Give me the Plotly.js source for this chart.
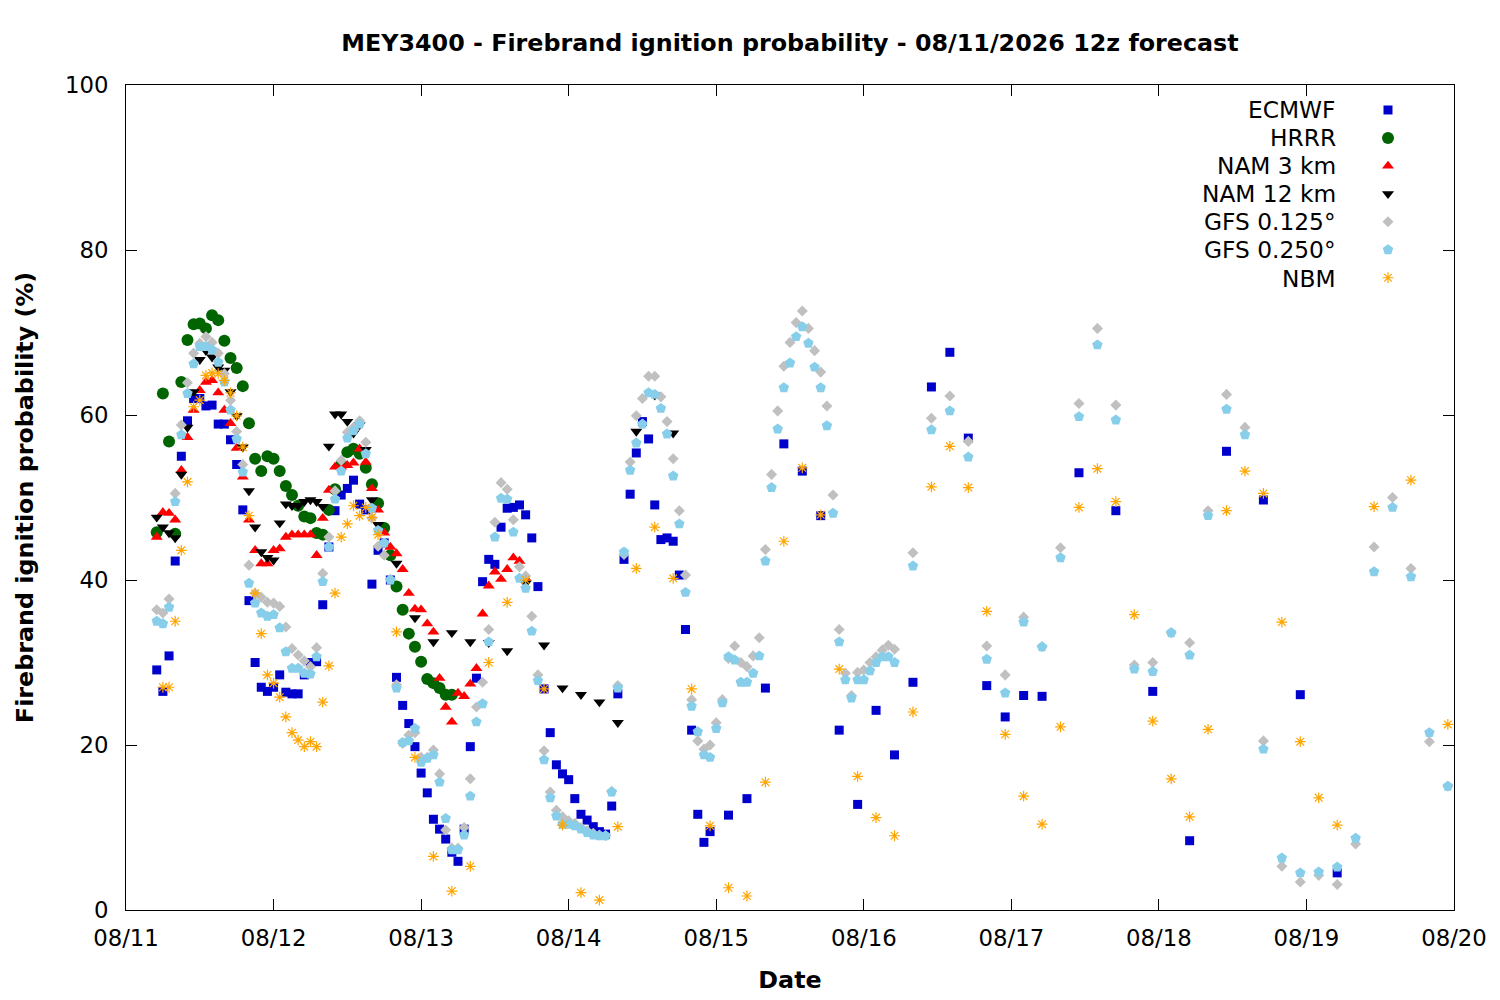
<!DOCTYPE html>
<html>
<head>
<meta charset="utf-8">
<script src="https://cdn.plot.ly/plotly-3.0.1.min.js"></script>
<style>
  html, body { margin: 0; padding: 0; background: #fff; }
  #chart { width: 1500px; height: 1000px; }
</style>
</head>
<body>
<div id="chart"></div>
<script>
// hours counted from 08/11 00:00, one entry per model output time
function span(a, b, step)
{
    var out = [];
    for (var h = a; h <= b; h += step) out.push(h);
    return out;
}

var names = ['ECMWF', 'HRRR', 'NAM 3 km', 'NAM 12 km', 'GFS 0.125\u00b0', 'GFS 0.250\u00b0', 'NBM'];

var ecmwf_h = span(5, 95, 1).concat(span(98, 149, 3), span(155, 197, 6));
var ecmwf_v =
[
    29.1, 26.5, 30.8, 42.3, 55, 59.3, 62, 62, 61.1, 61.2,
    58.9, 58.9, 57, 54, 48.5, 37.5, 30, 27, 26.5, 27,
    28.5, 26.4, 26.2, 26.2, 28.5, 30, 30.1, 37, 44, 48.4,
    50.3, 51.1, 52.1, 49.2, 48.5, 39.5, 43.6, 44.5, 40, 28.2,
    24.8, 22.6, 19.8, 16.6, 14.2, 11, 9.8, 8.6, 7, 5.9,
    9.8, 19.8, 28.1, 39.8, 42.5, 41.9, 46.4, 48.7, 48.8, 49.1,
    47.9, 45.1, 39.2, 26.8, 21.5, 17.6, 16.5, 15.8, 13.5, 11.6,
    10.9, 10.1, 9.5, 9.2, 12.6, 26.2, 42.5, 50.4, 55.4, 59.2,
    57.1, 49.1, 44.9, 45.1, 44.7, 40.6, 34, 21.8, 11.6, 8.2, 9.5,
    11.5, 13.5, 26.9, 56.5, 53.2, 47.8, 21.8, 12.8, 24.2, 18.8,
    27.6, 63.4, 67.6, 57.2, 27.2, 23.4, 26, 25.9,
    53, 48.4, 26.5, 8.4, 55.6, 49.7, 26.1, 4.5
];

var hrrr_h = span(5, 53, 1);
var hrrr_v =
[
    45.8, 62.6, 56.8, 45.6, 64, 69.1, 71, 71.1, 70.5, 72.1,
    71.5, 69, 66.9, 65.7, 63.5, 59, 54.7, 53.2, 55, 54.7,
    53.2, 51.4, 50.3, 49, 47.7, 47.5, 45.7, 45.5, 48.5, 51,
    54, 55.5, 55.9, 55.3, 53.6, 51.6, 49.3, 46.3, 43, 39.2,
    36.4, 33.5, 31.9, 30.1, 28, 27.5, 26.9, 26.1, 26.1
];

var nam3_h = span(5, 65, 1);
var nam3_v =
[
    45.2, 48.2, 48.1, 47.3, 53.3, 57.3, 60.6, 63, 64, 64.2,
    62.7, 60.6, 59, 56, 52.5, 47.3, 43.6, 42, 42, 43.6,
    43.8, 45.2, 45.5, 45.5, 45.5, 45.5, 43, 47.5, 50.9, 53.7,
    53.7, 53.9, 54.2, 55.9, 54.3, 51.1, 48.5, 45.7, 44, 43.2,
    41.3, 38.4, 36.5, 36.4, 34.7, 33.7, 28.1, 24.6, 22.8, 26.3,
    25.9, 27.4, 29.3, 35.9, 39.3, 41, 40.1, 41.3, 42.7, 42.3, 40.2
];

var nam12_h = span(5, 41, 1).concat(span(44, 89, 3));
var nam12_v =
[
    47.6, 46.4, 45.7, 45.1, 52.8, 58.5, 62.8, 66.7, 67.8, 67,
    65.8, 65.4, 62.8, 59.9, 56.1, 50.8, 46.4, 43.4, 42.7, 42.4,
    46.9, 49.2, 49, 49, 49.5, 49.7, 49.5, 48.9, 56.2, 60.1,
    60.1, 59.2, 57.8, 58.8, 55.8, 49.7, 46.7,
    42, 35.4, 32.5, 33.6, 32.5, 32.4, 31.4, 39.6, 32.1, 26.9,
    26.1, 25.2, 22.7, 58, 62.4, 57.8
];

var gfs_h = span(5, 125, 1).concat(span(128, 215, 3));
var gfs125_v =
[
    36.4, 36, 37.7, 50.5, 58.8, 63.9, 67.5, 68.7, 69.5, 68.8,
    67.5, 65, 61.8, 58, 54, 41.8, 38.4, 37.9, 37.3, 37.2,
    36.8, 34.3, 31.7, 30.9, 30.2, 29.5, 31.8, 40.8, 45.2, 50.8,
    54.5, 57.9, 58.5, 59.3, 56.7, 47.5, 44.1, 43, 40.1, 27.3,
    20.2, 21.2, 21.5, 18.5, 18.5, 19.4, 16.5, 9.7, 7.5, 7.5,
    10, 15.9, 24.6, 27.6, 34, 47, 51.8, 51, 47.3, 41.6,
    40.5, 35.6, 28.5, 19.3, 14.3, 12.1, 11.3, 10.8, 10.5, 10,
    9.6, 9.3, 9.1, 9, 14.4, 27.2, 43.1, 54.3, 59.9, 62,
    64.7, 64.7, 62.2, 59.2, 54.7, 48.4, 40.6, 25.5, 20.5, 19.5,
    20, 22.7, 25.5, 30.5, 32, 30, 29.5, 30.8, 33, 43.7,
    52.8, 60.5, 65.9, 68.8, 71.2, 72.6, 70.5, 67.8, 65.2, 61.1,
    50.3, 34, 28.7, 26, 28.8, 29.1, 30, 30.7, 31.5, 32.1, 31.6,
    43.3, 59.6, 62.3, 56.8, 32, 28.5, 35.5, 31.9, 43.9, 61.4,
    70.5, 61.2, 29.7, 30, 33.6, 32.4, 48.4, 62.5, 58.5, 20.5,
    5.3, 3.4, 4.2, 3.1, 8, 44, 50, 41.4, 20.4, 15
];
var gfs250_v =
[
    35, 34.7, 36.7, 49.5, 57.6, 62.6, 66.2, 68.3, 68.3, 67.9,
    66.4, 64, 60.6, 57.1, 53.1, 39.6, 37.2, 36, 35.6, 35.8,
    34.2, 31.3, 29.3, 29.3, 28.7, 28.6, 30.7, 39.8, 44, 49.8,
    53.2, 57.2, 58.1, 58.9, 55.3, 48.7, 46, 44.5, 40, 26.9,
    20.3, 20.5, 22, 17.9, 18.4, 18.8, 15.5, 11.1, 7.3, 7.3,
    9.1, 13.8, 22.8, 25, 32.5, 45.2, 49.9, 49.8, 45.8, 40.2,
    39, 33.8, 27.8, 18.2, 13.6, 11.4, 10.4, 10.4, 10.2, 9.8,
    9.4, 9.1, 9, 9, 14.3, 26.9, 43.4, 53.3, 56.6, 58.9,
    62.7, 62.5, 60.8, 57.7, 52.6, 46.8, 38.5, 24.7, 21.6, 18.8,
    18.5, 22, 25.1, 30.7, 30.3, 27.6, 27.6, 28.7, 30.8, 42.3,
    51.2, 58.3, 63.3, 66.3, 69.5, 70.7, 68.7, 65.8, 63.3, 58.7,
    48.1, 32.5, 27.9, 25.7, 27.9, 27.9, 29, 30, 30.7, 30.7, 30,
    41.7, 58.2, 60.5, 54.9, 30.4, 26.3, 34.9, 31.9, 42.7, 59.8,
    68.5, 59.4, 29.2, 28.9, 33.6, 30.9, 47.8, 60.7, 57.6, 19.5,
    6.3, 4.5, 4.6, 5.2, 8.7, 41, 48.8, 40.4, 21.5, 15
];

var nbm_h = span(6, 41, 1).concat(span(44, 197, 3), [203, 209, 215]);
var nbm_v =
[
    27, 27, 35, 43.6, 51.9, 61, 61.8, 64.8, 65.1, 65,
    64.2, 62.7, 59.9, 56.1, 47.8, 38.4, 33.5, 28.5, 27.5, 25.8,
    23.4, 21.5, 20.6, 19.8, 20.4, 19.8, 25.2, 29.6, 38.4, 45.2,
    46.8, 49, 47.8, 48.8, 47.6, 45.5,
    33.7, 18.5, 6.5, 2.3, 5.3, 30, 37.3, 40, 26.8, 10.3,
    2.1, 1.2, 10.1, 41.4, 46.4, 40.2, 26.8, 10.2, 2.7, 1.7,
    15.5, 44.7, 53.6, 47.9, 29.2, 16.2, 11.2, 9, 24, 51.3,
    56.2, 51.2, 36.2, 21.3, 13.8, 10.4, 22.2, 48.8, 53.5, 49.5,
    35.8, 22.9, 15.9, 11.3, 21.9, 48.4, 53.2, 50.5, 34.9, 20.4,
    13.6, 10.3,
    48.9, 52.1, 22.5
];

function toDates(hours)
{
    return hours.map(function(h)
    {
        var d = new Date(Date.UTC(2026, 7, 11) + h * 3600000);
        return d.toISOString().slice(0, 16).replace('T', ' ');
    });
}

function series(hours, values, symbol, size, color)
{
    var marker = {symbol: symbol, size: size, color: color, line: {width: 0}};
    if (symbol == 'asterisk-open') marker.line = {width: 1.2, color: color};
    return {
        type: 'scatter',
        mode: 'markers',
        x: toDates(hours),
        y: values,
        name: ' ',
        marker: marker,
        hoverinfo: 'x+y'
    };
}

var data =
[
    series(ecmwf_h, ecmwf_v, 'square', 9, '#0000cd'),
    series(hrrr_h, hrrr_v, 'circle', 12, '#006400'),
    series(nam3_h, nam3_v, 'triangle-up', 10.5, '#ff0000'),
    series(nam12_h, nam12_v, 'triangle-down', 10.5, '#000000'),
    series(gfs_h, gfs125_v, 'diamond', 8.5, '#c0c0c0'),
    series(gfs_h, gfs250_v, 'pentagon', 11, '#87ceeb'),
    series(nbm_h, nbm_v, 'asterisk-open', 9, '#ffa500')
];

var font = 'DejaVu Sans, Liberation Sans, sans-serif';

// legend text sits left of the symbols, as in the original
var legendRows = [110, 138, 166, 194, 222, 250, 278];
var annotations = names.map(function(n, i)
{
    return {
        text: n,
        xref: 'paper',
        yref: 'paper',
        x: (1338 - 126) / 1328,
        y: (910 - legendRows[i]) / 825,
        xanchor: 'right',
        yanchor: 'middle',
        showarrow: false,
        font: {family: font, size: 23.3, color: '#000'}
    };
});

var layout =
{
    width: 1500,
    height: 1000,
    paper_bgcolor: '#fff',
    plot_bgcolor: '#fff',
    margin: {l: 126, r: 46, t: 85, b: 90},
    font: {family: font, size: 23, color: '#000'},
    title:
    {
        text: '<b>MEY3400 - Firebrand ignition probability - 08/11/2026 12z forecast</b>',
        font: {family: font, size: 23.8, color: '#000'},
        x: 0.5,
        xref: 'paper',
        y: 0.957,
        yref: 'container',
        yanchor: 'middle'
    },
    xaxis:
    {
        type: 'date',
        range: ['2026-08-11 00:00', '2026-08-20 00:00'],
        tick0: '2026-08-11',
        dtick: 86400000,
        tickformat: '%m/%d',
        ticks: 'inside',
        ticklen: 11,
        tickcolor: '#000',
        tickwidth: 1,
        ticklabelstandoff: 8,
        showline: true,
        linecolor: '#000',
        linewidth: 1,
        mirror: 'ticks',
        showgrid: false,
        zeroline: false,
        tickfont: {family: font, size: 22.8, color: '#000'},
        title: {text: '<b>Date</b>', standoff: 20, font: {family: font, size: 23.8, color: '#000'}}
    },
    yaxis:
    {
        range: [0, 100],
        dtick: 20,
        ticks: 'inside',
        ticklen: 11,
        tickcolor: '#000',
        tickwidth: 1,
        ticklabelstandoff: 12,
        showline: true,
        linecolor: '#000',
        linewidth: 1,
        mirror: 'ticks',
        showgrid: false,
        zeroline: false,
        tickfont: {family: font, size: 22.8, color: '#000'},
        title: {text: '<b>Firebrand ignition probability (%)</b>', standoff: 24, font: {family: font, size: 23.8, color: '#000'}}
    },
    showlegend: true,
    legend:
    {
        x: (1368 - 126) / 1328,
        y: (910 - 91) / 825,
        xanchor: 'left',
        yanchor: 'top',
        bgcolor: 'rgba(0,0,0,0)',
        borderwidth: 0,
        font: {family: font, size: 19.2, color: '#000'},
        itemclick: false
    },
    annotations: annotations
};

Plotly.newPlot('chart', data, layout, {displayModeBar: false, staticPlot: true});
</script>
</body>
</html>
